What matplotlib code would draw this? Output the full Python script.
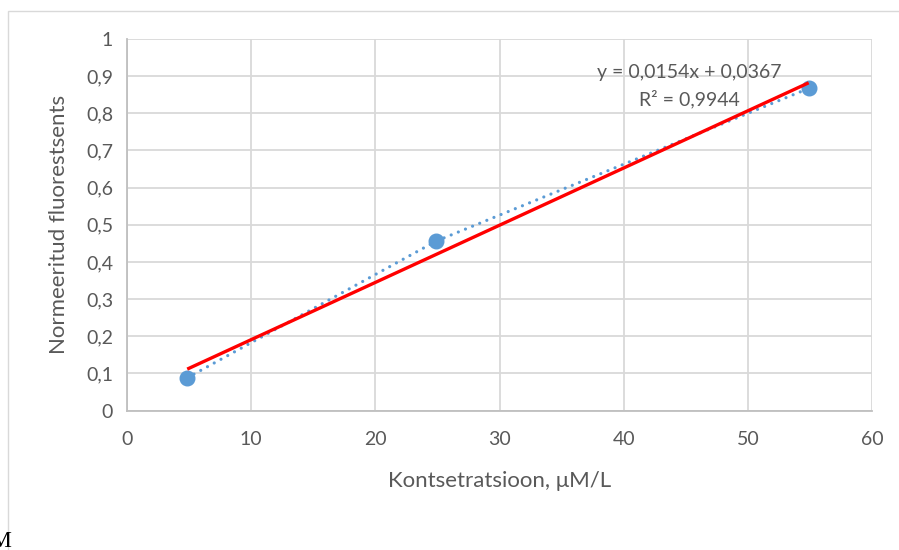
import numpy as np
import matplotlib.pyplot as plt
from matplotlib.patches import Rectangle

plt.rcParams['font.family'] = ['Lato', 'DejaVu Sans']

# measured points
konts = [4.85, 24.9, 54.9]
fluor = [0.088, 0.456, 0.867]

# linear trendline as reported
slope = 0.0154
intercept = 0.0367
r2 = 0.9944

x_ticks = [0, 10, 20, 30, 40, 50, 60]
y_ticks = [0, 0.1, 0.2, 0.3, 0.4, 0.5, 0.6, 0.7, 0.8, 0.9, 1.0]

txt = '#595959'
grid_c = '#d9d9d9'

fig = plt.figure(figsize=(8.99, 5.5), dpi=100)
W, H = 899, 550

# outer chart frame
fig.patches.append(Rectangle((8 / W, -0.1), 1.2, 1 - 11 / H + 0.1,
                             transform=fig.transFigure, fill=False,
                             edgecolor='#d9d9d9', linewidth=1))

ax = fig.add_axes([127 / W, 1 - 410.5 / H, (872 - 127) / W, (410.5 - 39) / H])
ax.set_xlim(0, 60)
ax.set_ylim(0, 1)
ax.set_xticks(x_ticks)
ax.set_yticks(y_ticks)
ax.set_xticklabels([str(v) for v in x_ticks])
ax.set_yticklabels([('%g' % v).replace('.', ',') for v in y_ticks])
ax.tick_params(length=0, labelsize=14, colors=txt, pad=10)
ax.tick_params(axis='x', pad=15)
ax.grid(True, color=grid_c, linewidth=1.3)
ax.set_axisbelow(True)
for s in ['top', 'right']:
    ax.spines[s].set_visible(False)
for s in ['left', 'bottom']:
    ax.spines[s].set_color('#bfbfbf')
    ax.spines[s].set_linewidth(1.3)

ax.plot(konts, fluor, linestyle=(0, (0.01, 2.4)), color='#5b9bd5', linewidth=2.3,
        dash_capstyle='round', marker='o', markersize=10.5,
        markerfacecolor='#5b9bd5', markeredgecolor='#5b9bd5', zorder=3)

xt = np.array([min(konts), max(konts)])
ax.plot(xt, slope * xt + intercept, color='#ff0000', linewidth=2.4,
        solid_capstyle='butt', zorder=4)

eq = 'y = %sx + %s' % (('%.4f' % slope).replace('.', ','),
                        ('%.4f' % intercept).replace('.', ','))
ax.text(45.3, 0.911, eq, ha='center', va='center', fontsize=14, color=txt)
ax.text(45.3, 0.838, 'R² = %s' % ('%.4f' % r2).replace('.', ','),
        ha='center', va='center', fontsize=14, color=txt)

ax.set_xlabel('Kontsetratsioon, μM/L', fontsize=16, color=txt, labelpad=16)
ax.set_ylabel('Normeeritud fluorestsents', fontsize=16, color=txt, labelpad=12)

fig.text(-0.011, -0.004, 'M', family='Liberation Serif', fontsize=17,
         color='black', ha='left', va='bottom')

fig.savefig('out.png', dpi=100)
